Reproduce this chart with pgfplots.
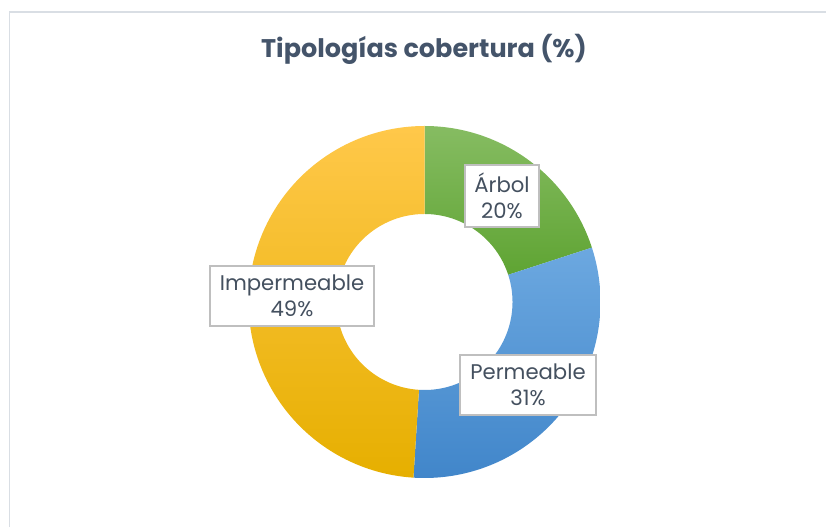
\documentclass[border=0pt]{standalone}
\usepackage{pgfplots}
\pgfplotsset{compat=1.18}
\usepackage{fontspec}
\setmainfont{Poppins}
\definecolor{titlec}{HTML}{44546A}
\definecolor{labc}{HTML}{44505F}
\definecolor{boxc}{HTML}{BFBFBF}
\definecolor{framec}{HTML}{D9DEE4}
\definecolor{gtop}{HTML}{86BC62}
\definecolor{gbot}{HTML}{5FA433}
\definecolor{btop}{HTML}{6CA8E0}
\definecolor{bbot}{HTML}{4186CA}
\definecolor{ytop}{HTML}{FFC84A}
\definecolor{ybot}{HTML}{E6AF00}
% data: share of each cover type (%)
\def\vA{20}\def\vP{31}\def\vI{49}
\pgfmathsetmacro{\cA}{\vA}
\pgfmathsetmacro{\cP}{\vA+\vP}
\pgfmathsetmacro{\cI}{\vA+\vP+\vI}
\def\cx{424.5}\def\cy{225}\def\Ro{176}\def\Ri{88}
\newcommand{\slice}[4]{%
  \addplot[draw=none, top color=#3, bottom color=#4, samples at={0,1,...,200,300,301,...,500}, variable=\t]
  ({\cx + ((\t<250) ? \Ro : \Ri)*cos(90-3.6*(#1+(#2-#1)*((\t<250) ? (\t/200) : ((500-\t)/200))))},
   {\cy + ((\t<250) ? \Ro : \Ri)*sin(90-3.6*(#1+(#2-#1)*((\t<250) ? (\t/200) : ((500-\t)/200))))}) -- cycle;}
\begin{document}
\begin{tikzpicture}
\begin{axis}[width=826pt, height=527pt, scale only axis, xmin=0, xmax=826, ymin=0, ymax=527, hide axis]
\draw[framec, line width=1.2pt] (axis cs:9.5,0) -- (axis cs:9.5,515) -- (axis cs:826,515);
\slice{0}{\cA}{gtop}{gbot}
\slice{\cA}{\cP}{btop}{bbot}
\slice{\cP}{\cI}{ytop}{ybot}
\node[text=titlec, font=\fontsize{25.5}{29}\selectfont\bfseries] at (axis cs:424,478) {Tipologías cobertura (\%)};
\tikzset{lab/.style={draw=boxc, line width=1.5pt, fill=white, text=labc, align=center, inner sep=0pt, font=\fontsize{21.2}{26}\selectfont}}
\node[lab, minimum width=74pt, minimum height=62pt] at (axis cs:502,331) {Árbol\\20\%};
\node[lab, minimum width=164pt, minimum height=60pt] at (axis cs:292,231) {Impermeable\\49\%};
\node[lab, minimum width=136pt, minimum height=60pt] at (axis cs:528,142) {Permeable\\31\%};
\end{axis}
\pgfresetboundingbox
\path[use as bounding box] (0,0) rectangle (826pt,527pt);
\end{tikzpicture}
\end{document}
